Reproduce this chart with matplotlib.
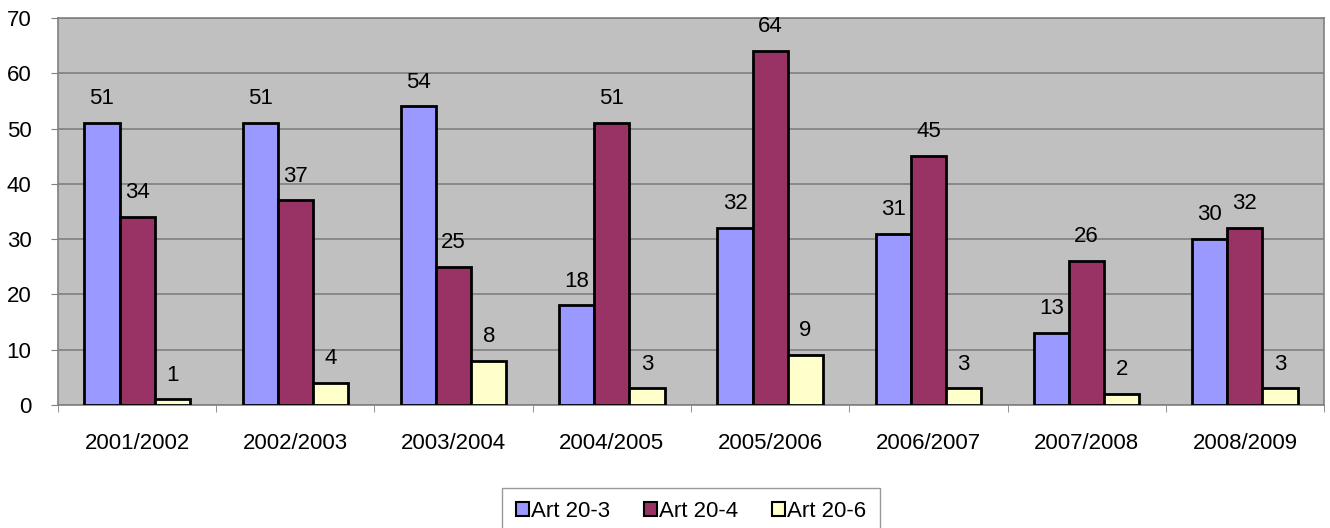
import numpy as np
import matplotlib.pyplot as plt

plt.rcParams['font.family'] = ['Liberation Sans', 'DejaVu Sans']

temporadas = ['2001/2002', '2002/2003', '2003/2004', '2004/2005',
              '2005/2006', '2006/2007', '2007/2008', '2008/2009']
art_20_3 = [51, 51, 54, 18, 32, 31, 13, 30]
art_20_4 = [34, 37, 25, 51, 64, 45, 26, 32]
art_20_6 = [1, 4, 8, 3, 9, 3, 2, 3]
series = ['Art 20-3', 'Art 20-4', 'Art 20-6']
colores = ['#9999FF', '#993366', '#FFFFCC']

fig = plt.figure(figsize=(13.3, 5.28), dpi=100)
ax = fig.add_axes([0.0436, 0.233, 0.9519, 0.733])
ax.set_facecolor('#C0C0C0')

x = np.arange(len(temporadas))
w = 0.222
for i, (vals, nom, col) in enumerate(zip([art_20_3, art_20_4, art_20_6], series, colores)):
    barras = ax.bar(x + (i - 1) * w, vals, w, color=col, edgecolor='black',
                    linewidth=2, label=nom, zorder=3)
    ax.bar_label(barras, padding=10, fontsize=16, zorder=4)

ax.set_xlim(-0.5, len(temporadas) - 0.5)
ax.set_ylim(0, 70)
ax.set_yticks(range(0, 71, 10))
ax.yaxis.grid(True, color='#808080', linewidth=1.2, zorder=0)
ax.set_xticks(x)
ax.set_xticklabels(temporadas, fontsize=16)
ax.set_xticks(np.arange(len(temporadas) + 1) - 0.5, minor=True)
ax.tick_params(axis='x', which='major', length=0, pad=20)
ax.tick_params(axis='x', which='minor', length=5, color='#808080')
ax.tick_params(axis='y', labelsize=16, length=5, color='#808080', pad=14)
for lado in ['top', 'right', 'left', 'bottom']:
    ax.spines[lado].set_color('#808080')
    ax.spines[lado].set_linewidth(1.2)

leg = ax.legend(loc='upper center', bbox_to_anchor=(0.5, -0.185), ncol=3,
                fontsize=16, frameon=True, fancybox=False, handlelength=0.6,
                handleheight=0.6, handletextpad=0.1, columnspacing=1.5,
                borderpad=0.6)
leg.get_frame().set_edgecolor('#808080')
leg.get_frame().set_linewidth(1)
for h in leg.legend_handles:
    h.set_linewidth(1.5)

fig.savefig('out.png', dpi=100)
